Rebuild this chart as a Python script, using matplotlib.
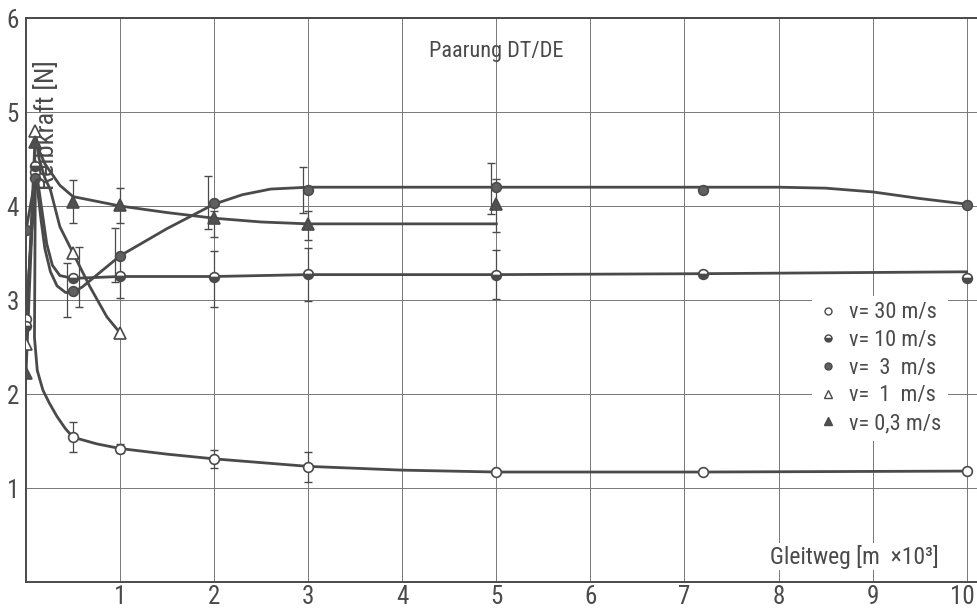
import matplotlib
matplotlib.use('Agg')
import matplotlib.pyplot as plt
from matplotlib import font_manager
from matplotlib.lines import Line2D
from matplotlib.transforms import ScaledTranslation

# schmale Schrift suchen (Normschrift-Ersatz)
names = {f.name for f in font_manager.fontManager.ttflist}
schrift = 'DejaVu Sans'
dehnung = 'normal'
for kandidat in ['Liberation Sans Narrow', 'Roboto Condensed', 'Open Sans Condensed', 'Roboto']:
    if kandidat in names:
        schrift = kandidat
        break
if schrift in ('DejaVu Sans', 'Roboto'):
    if any(f.name == 'DejaVu Sans' and f.stretch == 'condensed' for f in font_manager.fontManager.ttflist):
        schrift = 'DejaVu Sans'
        dehnung = 'condensed'
plt.rcParams['font.family'] = [schrift, 'DejaVu Sans']
plt.rcParams['font.stretch'] = dehnung

# Messpunkte: Gleitweg [m x 10^3], Reibkraft [N]
v30_x = [0, 0.1, 0.5, 1, 2, 3, 5, 7.2, 10]
v30_y = [2.80, 4.36, 1.54, 1.41, 1.31, 1.22, 1.17, 1.17, 1.18]
v10_x = [0, 0.1, 0.5, 1, 2, 3, 5, 7.2, 10]
v10_y = [2.72, 4.43, 3.23, 3.26, 3.24, 3.28, 3.27, 3.28, 3.23]
v3_x = [0, 0.1, 0.5, 1, 2, 3, 5, 7.2, 10]
v3_y = [3.74, 4.30, 3.10, 3.47, 4.03, 4.17, 4.20, 4.17, 4.01]
v1_x = [0, 0.1, 0.5, 1]
v1_y = [2.53, 4.80, 3.50, 2.65]
v03_x = [0, 0.1, 0.5, 1, 2, 3, 5]
v03_y = [2.22, 4.68, 4.04, 4.01, 3.87, 3.81, 4.02]

# Ausgleichskurven
k30_x = [0, 0.1, 0.09, 0.12, 0.18, 0.25, 0.33, 0.42, 0.5, 0.75, 1, 1.5, 2, 3, 4, 5, 7.2, 10]
k30_y = [2.80, 4.36, 2.6, 2.25, 2.04, 1.9, 1.76, 1.63, 1.54, 1.47, 1.42, 1.36, 1.31, 1.23, 1.19, 1.17, 1.17, 1.18]
k10_x = [0, 0.1, 0.12, 0.17, 0.22, 0.28, 0.36, 0.5, 1, 2, 3, 5, 7.2, 10]
k10_y = [2.72, 4.43, 4.3, 3.95, 3.6, 3.37, 3.26, 3.23, 3.25, 3.25, 3.27, 3.27, 3.28, 3.30]
k3_x = [0, 0.1, 0.12, 0.16, 0.2, 0.26, 0.33, 0.42, 0.5, 0.6, 1, 1.5, 2, 2.3, 2.6, 3, 5, 8, 8.5, 9, 9.5, 10]
k3_y = [3.74, 4.30, 4.2, 3.85, 3.55, 3.3, 3.15, 3.08, 3.08, 3.14, 3.47, 3.76, 4.02, 4.12, 4.18, 4.2, 4.2, 4.2, 4.19, 4.15, 4.08, 4.02]
k1_x = [0, 0.1, 0.14, 0.2, 0.26, 0.36, 0.5, 0.68, 0.86, 1]
k1_y = [2.53, 4.8, 4.5, 4.3, 4.17, 3.78, 3.5, 3.14, 2.82, 2.65]
k03_x = [0, 0.1, 0.2, 0.36, 0.5, 0.75, 1, 1.5, 2, 2.5, 3, 5]
k03_y = [2.22, 4.68, 4.45, 4.22, 4.1, 4.05, 4.0, 3.93, 3.87, 3.83, 3.81, 3.81]

# Streubereiche
f30_x = [0.5, 1, 2, 3]
f30_lo = [1.38, 1.37, 1.21, 1.06]
f30_hi = [1.70, 1.47, 1.40, 1.38]
f10_x = [0.56, 1, 2, 3, 5]
f10_lo = [2.93, 3.02, 2.93, 2.99, 3.01]
f10_hi = [3.56, 3.45, 3.52, 3.55, 3.53]
f3_x = [0.44, 0.95, 1.94, 2.94, 4.94]
f3_lo = [2.82, 3.19, 3.76, 3.93, 3.91]
f3_hi = [3.39, 3.77, 4.32, 4.42, 4.46]
f03_x = [0.5, 1, 2, 3, 5]
f03_lo = [3.82, 3.82, 3.67, 3.64, 3.72]
f03_hi = [4.28, 4.19, 3.95, 3.95, 4.29]

legende = ['v= 30 m/s', 'v= 10 m/s', 'v=  3  m/s', 'v=  1  m/s', 'v= 0,3 m/s']

farbe = '#4a4a4a'
gitter = '#777777'

fig = plt.figure(figsize=(9.77, 6.09), dpi=100)
ax = fig.add_axes([26 / 977, 27 / 609, 951 / 977, 564 / 609])
ax.set_xlim(0, 10.11)
ax.set_ylim(0, 6)

ax.set_xticks(range(1, 11))
ax.set_yticks(range(1, 7))
ax.grid(True, color=gitter, linewidth=0.7)
ax.tick_params(axis='both', colors=farbe, labelsize=18, length=0)
ax.tick_params(axis='x', pad=2)
ax.tick_params(axis='y', pad=5)
for s in ['left', 'bottom', 'top']:
    ax.spines[s].set_color(farbe)
    ax.spines[s].set_linewidth(1.4)
ax.spines['right'].set_visible(False)
# letzte Beschriftung etwas nach links, damit sie im Bild bleibt
letzte = ax.get_xticklabels()[-1]
letzte.set_transform(letzte.get_transform() + ScaledTranslation(-4 / 100, 0, fig.dpi_scale_trans))

# Streubalken
for fx, lo, hi in [(f30_x, f30_lo, f30_hi), (f10_x, f10_lo, f10_hi),
                   (f3_x, f3_lo, f3_hi), (f03_x, f03_lo, f03_hi)]:
    ax.vlines(fx, lo, hi, color=farbe, linewidth=0.9, zorder=3)
    ax.plot(fx, lo, linestyle='none', marker='_', markersize=6, color=farbe, mew=1.0, zorder=3)
    ax.plot(fx, hi, linestyle='none', marker='_', markersize=6, color=farbe, mew=1.0, zorder=3)

# Kurven
for kx, ky in [(k30_x, k30_y), (k10_x, k10_y), (k3_x, k3_y), (k1_x, k1_y), (k03_x, k03_y)]:
    ax.plot(kx, ky, color=farbe, linewidth=2.0, zorder=4, solid_joinstyle='round')

# Messpunkte
stile = [
    dict(marker='o', markerfacecolor='white', markeredgecolor=farbe, markersize=7),
    dict(marker='o', fillstyle='bottom', markerfacecolor=farbe, markerfacecoloralt='white',
         markeredgecolor=farbe, markersize=7),
    dict(marker='o', markerfacecolor='#606060', markeredgecolor=farbe, markersize=7),
    dict(marker='^', markerfacecolor='white', markeredgecolor=farbe, markersize=8),
    dict(marker='^', markerfacecolor='#505050', markeredgecolor=farbe, markersize=8),
]
for (px, py), st in zip([(v30_x, v30_y), (v10_x, v10_y), (v3_x, v3_y), (v1_x, v1_y), (v03_x, v03_y)], stile):
    ax.plot(px, py, linestyle='none', markeredgewidth=1.2, zorder=5, **st)

handles = [Line2D([], [], linestyle='none', markeredgewidth=1.0,
                  **{**st, 'markersize': st['markersize'] - 2}) for st in stile]
leg = ax.legend(handles, legende, loc='center', bbox_to_anchor=(0.898, 0.379),
                frameon=True, fontsize=16, handlelength=0.8, handletextpad=0.55,
                labelspacing=0.3, borderpad=0.3, borderaxespad=0, fancybox=False)
leg.get_frame().set_facecolor('white')
leg.get_frame().set_edgecolor('none')
leg.get_frame().set_alpha(1)
for t in leg.get_texts():
    t.set_color(farbe)
leg.set_zorder(6)

ax.text(5.0, 5.64, 'Paarung DT/DE', ha='center', va='center', fontsize=16, color=farbe)
ax.text(9.70, 0.27, 'Gleitweg [m  ×10³]', ha='right', va='center', fontsize=17, color=farbe,
        bbox=dict(facecolor='white', edgecolor='none', pad=1))
ax.text(0.22, 4.86, 'Reibkraft [N]', rotation=90, ha='center', va='center', fontsize=19,
        color=farbe, zorder=7)

fig.savefig('out.png', dpi=100)
